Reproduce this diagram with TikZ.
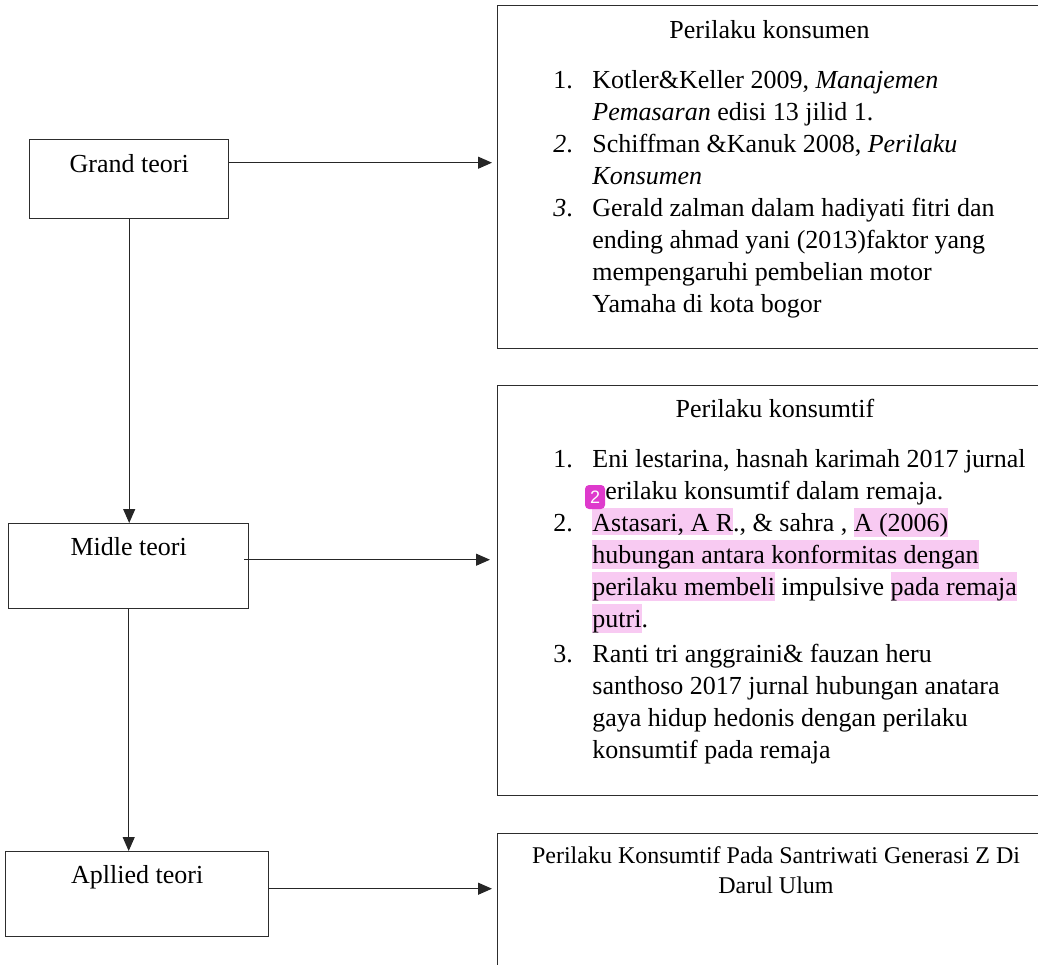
\documentclass[tikz,border=0pt]{standalone}
\usepackage{fontspec}
\setmainfont{Liberation Serif}
\newfontfamily\markfont{Liberation Sans}
\usetikzlibrary{arrows.meta,positioning,calc}
\definecolor{hlpink}{RGB}{248,202,242}
\definecolor{markpink}{RGB}{222,58,204}
\definecolor{linegray}{RGB}{45,45,45}
\newcommand{\hlt}[1]{{\setlength{\fboxsep}{0pt}\smash{\colorbox{hlpink}{\rule[-2pt]{0pt}{13.5pt}#1}}}}

\begin{document}
\begin{tikzpicture}[
  x=0.5pt,y=-0.5pt,
  >={Triangle[length=7pt,width=6pt]},
  flow/.style={->,draw=black!85,line width=0.55pt},
  teori/.style={draw=linegray,line width=0.7pt,inner sep=0pt,anchor=north west,
    font=\fontsize{13}{16}\selectfont},
  refbox/.style={draw=linegray,line width=0.7pt,anchor=north west,minimum width=300pt},
  reftitle/.style={anchor=base,inner sep=0pt,font=\fontsize{13}{16}\selectfont},
  reflist/.style={anchor=north west,inner sep=0pt,font=\fontsize{13}{16}\selectfont}
]
\useasboundingbox (0,0) rectangle (1038,964);
\clip (0,0) rectangle (1038,964);

% left column
\node[teori,minimum width=99.5pt,text height=16.5pt,text depth=23pt] (grand) at (29,139) {Grand teori};
\node[teori,minimum width=120pt,text height=16pt,text depth=26.5pt] (midle) at (8,523) {Midle teori};
\node[teori,minimum width=131.5pt,text height=16pt,text depth=26.5pt] (applied) at (5,851) {Apllied teori};

% right column
\node[refbox,minimum height=171.5pt] (konsumen) at (497,5) {};
\node[reftitle] (konsumentitle) at (769.5,38) {Perilaku konsumen};
\node[reflist] (konsumenlist) at (553,66) {%
\begin{tabular}{@{}p{19.5pt}@{}l@{}}
1. & Kotler\&Keller 2009, \textit{Manajemen}\\
 & \textit{Pemasaran} edisi 13 jilid 1.\\
\textit{2}. & Schiffman \&Kanuk 2008, \textit{Perilaku}\\
 & \textit{Konsumen}\\
\textit{3}. & Gerald zalman dalam hadiyati fitri dan\\
 & ending ahmad yani (2013)faktor yang\\
 & mempengaruhi pembelian motor\\
 & Yamaha di kota bogor
\end{tabular}};

\node[refbox,minimum height=205pt] (konsumtif) at (497,385) {};
\node[reftitle] (konsumtiftitle) at (775,417) {Perilaku konsumtif};
\node[reflist] (konsumtiflist) at (553,444.6) {%
\begin{tabular}{@{}p{19.5pt}@{}l@{}}
1. & Eni lestarina, hasnah karimah 2017 jurnal\\
 & perilaku konsumtif dalam remaja.\\
2. & \hlt{Astasari, A R}., \& sahra , \hlt{A (2006)}\\
 & \hlt{hubungan antara konformitas dengan}\\
 & \hlt{perilaku membeli} impulsive \hlt{pada remaja}\\
 & \hlt{putri}.\\[1.5pt]
3. & Ranti tri anggraini\& fauzan heru\\
 & santhoso 2017 jurnal hubungan anatara\\
 & gaya hidup hedonis dengan perilaku\\
 & konsumtif pada remaja
\end{tabular}};
\node[fill=markpink,rounded corners=2pt,text=white,inner sep=0pt,
  minimum width=10pt,minimum height=12pt,font=\markfont\fontsize{9}{9}\selectfont] (note2) at (595,497) {2};

\node[refbox,minimum height=100pt] (santri) at (497,833) {};
\node[anchor=base,align=center,inner sep=0pt,font=\fontsize{12}{15}\selectfont] (santritext) at (776,893)
  {Perilaku Konsumtif Pada Santriwati Generasi Z Di\\Darul Ulum};

% connectors
\coordinate (ga) at ([yshift=8.25pt]grand.east);
\coordinate (ma) at ([shift={(-2.5pt,3.25pt)}]midle.east);
\coordinate (aa) at ([yshift=2.75pt]applied.east);
\draw[flow,shorten >=2.5pt] (ga) -- (ga -| konsumen.west);
\draw[flow,shorten >=3.5pt] (ma) -- (ma -| konsumtif.west);
\draw[flow,shorten >=2.5pt] (aa) -- (aa -| santri.west);
\draw[flow] (grand.south) -- (grand.south |- midle.north);
\draw[flow] (midle.south) -- (midle.south |- applied.north);
\end{tikzpicture}
\end{document}
